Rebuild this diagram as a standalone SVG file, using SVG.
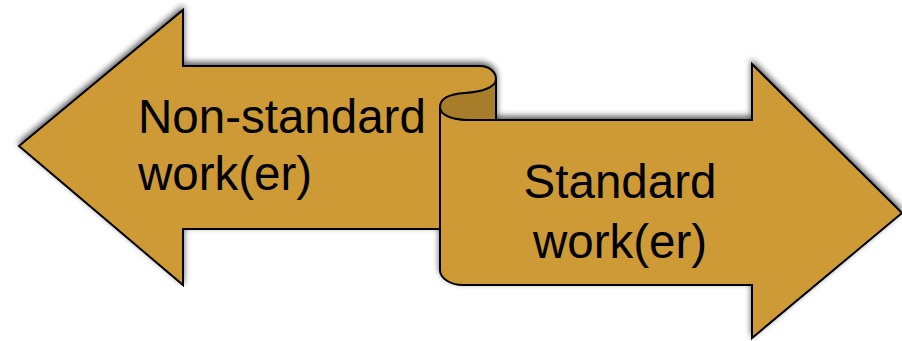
<svg xmlns="http://www.w3.org/2000/svg" width="902" height="341" viewBox="0 0 902 341">
<defs>
<filter id="sh" x="-10%" y="-20%" width="120%" height="140%">
<feGaussianBlur in="SourceAlpha" stdDeviation="3"/>
<feOffset dx="0" dy="-3" result="b"/>
<feComponentTransfer><feFuncA type="linear" slope="0.65"/></feComponentTransfer>
<feMerge><feMergeNode/><feMergeNode in="SourceGraphic"/></feMerge>
</filter>
</defs>
<style>
.arrow{fill:#CD9A36;stroke:#000;stroke-width:2;stroke-linejoin:miter}
.curl{fill:#A77D2B;stroke:#000;stroke-width:2}
.lbl{font-family:"Liberation Sans",Arial,sans-serif;font-size:47.5px;fill:#000}
</style>
<rect width="902" height="341" fill="#fff"/>
<g filter="url(#sh)">
<g id="nonstandard">
<path class="arrow" d="M19,146 L183,10 L183,66 L480,66 C489,66 496,72 496,79 L496,229 L183,229 L183,285 Z"/>
</g>
<g id="standard">
<path class="arrow" d="M440,270 L440,107 C440,114 450,120 470,120 L752,120 L752,64 L902,213 L752,338 L752,285 L463,285 C450,285 440,278 440,270 Z"/>
</g>
<path class="curl" d="M496,79 L496,120 L470,120 C450,120 440,114 440,107 C440,98 450,94 465,93 C480,92 496,88 496,79 Z"/>
</g>
<text class="lbl" x="138" y="133">Non-standard</text>
<text class="lbl" x="138" y="190">work(er)</text>
<text class="lbl" x="620" y="198" text-anchor="middle">Standard</text>
<text class="lbl" x="620" y="258" text-anchor="middle">work(er)</text>
</svg>
